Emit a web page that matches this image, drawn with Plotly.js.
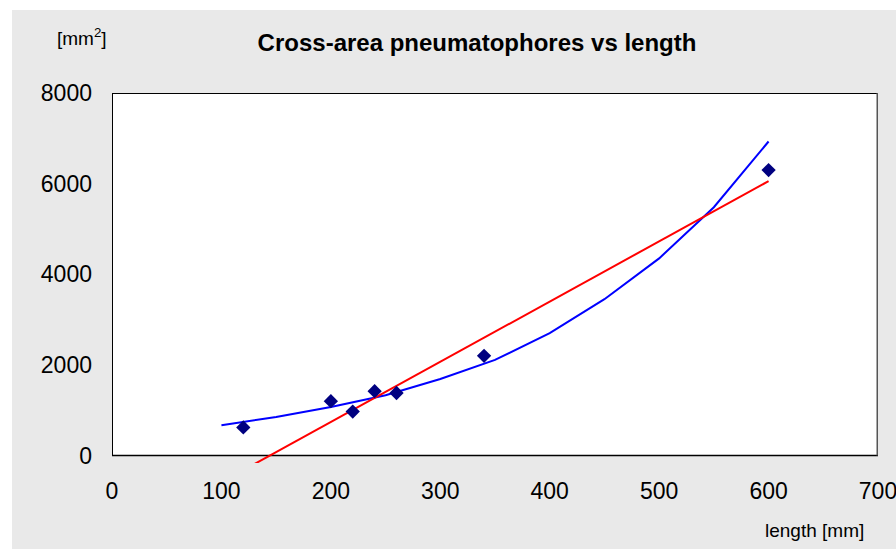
<!DOCTYPE html>
<html>
<head>
<meta charset="utf-8">
<script src="https://cdn.plot.ly/plotly-3.0.1.min.js"></script>
<style>html,body{margin:0;padding:0;background:#fff;}#chart{width:896px;height:549px;}</style>
</head>
<body>
<div id="chart"></div>
<script>
// Measured data points
var lengthMm = [120, 200, 220, 240, 260, 340, 600];
var crossArea = [620, 1200, 970, 1420, 1380, 2200, 6300];

// Exponential trendline (vertices)
var expTrendX = [100, 150, 200, 250, 300, 350, 400, 450, 500, 550, 600];
var expTrendY = [670, 850, 1070, 1330, 1690, 2110, 2700, 3450, 4350, 5480, 6930];

// Linear trendline (end points)
var linTrendX = [120, 600];
var linTrendY = [-323, 6055];

var xTicks = [0, 100, 200, 300, 400, 500, 600, 700];
var yTicks = [0, 2000, 4000, 6000, 8000];

var font = "Liberation Sans, Arial, sans-serif";

var traces = [
  {x: expTrendX, y: expTrendY, mode: 'lines', type: 'scatter',
   line: {color: '#0000ff', width: 2}, hoverinfo: 'skip'},
  {x: linTrendX, y: linTrendY, mode: 'lines', type: 'scatter',
   line: {color: '#ff0000', width: 2}, hoverinfo: 'skip'},
  {x: lengthMm, y: crossArea, mode: 'markers', type: 'scatter',
   marker: {symbol: 'diamond', size: 11, color: '#000080'}}
];

var layout = {
  width: 896, height: 549,
  margin: {l: 112, r: 18, t: 93, b: 86, pad: 0},
  paper_bgcolor: '#ffffff',
  plot_bgcolor: 'rgba(0,0,0,0)',
  showlegend: false,
  font: {family: font, color: '#000', size: 23},
  title: {text: '<b>Cross-area pneumatophores vs length</b>',
          font: {family: font, size: 24, color: '#000'},
          x: 477/896, xanchor: 'center', xref: 'container',
          y: 1 - 43/549, yanchor: 'middle', yref: 'container'},
  xaxis: {range: [0, 700], tickvals: xTicks, ticktext: xTicks.map(String),
          showgrid: false, zeroline: false, showline: false, ticks: '',
          ticklabeloverflow: 'allow',
          ticklabelstandoff: 12, tickfont: {family: font, size: 23, color: '#000'}},
  yaxis: {range: [-165, 8000], tickvals: yTicks, ticktext: yTicks.map(String),
          showgrid: false, zeroline: false, showline: false, ticks: '',
          ticklabelstandoff: 19, tickfont: {family: font, size: 23, color: '#000'}},
  shapes: [
    {type: 'rect', xref: 'paper', yref: 'paper', layer: 'below',
     x0: (12-112)/766, x1: (896-112)/766, y0: (462.8-549)/369.8, y1: (462.8-10)/369.8,
     fillcolor: '#e9e9e9', line: {width: 0}},
    {type: 'rect', xref: 'x', yref: 'y', layer: 'below',
     x0: 0, x1: 700, y0: 0, y1: 8000, fillcolor: '#ffffff', line: {width: 0}},
    {type: 'line', xref: 'x', yref: 'y', layer: 'below', x0: 0, x1: 700, y0: 0, y1: 0, line: {color: '#000', width: 1.5}},
    {type: 'line', xref: 'x', yref: 'y', layer: 'below', x0: 0, x1: 700, y0: 8000, y1: 8000, line: {color: '#000', width: 2}},
    {type: 'line', xref: 'x', yref: 'y', layer: 'below', x0: 0, x1: 0, y0: 0, y1: 8000, line: {color: '#000', width: 2}},
    {type: 'line', xref: 'x', yref: 'y', layer: 'below', x0: 700, x1: 700, y0: 0, y1: 8000, line: {color: '#555', width: 3}}
  ],
  annotations: [
    {text: '[mm<sup>2</sup>]', xref: 'paper', yref: 'paper', showarrow: false,
     x: (82-112)/766, y: (462.8-37)/369.8, xanchor: 'center', yanchor: 'middle',
     font: {family: font, size: 19, color: '#000'}},
    {text: 'length [mm]', xref: 'paper', yref: 'paper', showarrow: false,
     x: (866-112)/766, y: (462.8-530)/369.8, xanchor: 'right', yanchor: 'middle',
     font: {family: font, size: 19, color: '#000'}}
  ]
};

Plotly.newPlot('chart', traces, layout, {displayModeBar: false, staticPlot: true});
</script>
</body>
</html>
